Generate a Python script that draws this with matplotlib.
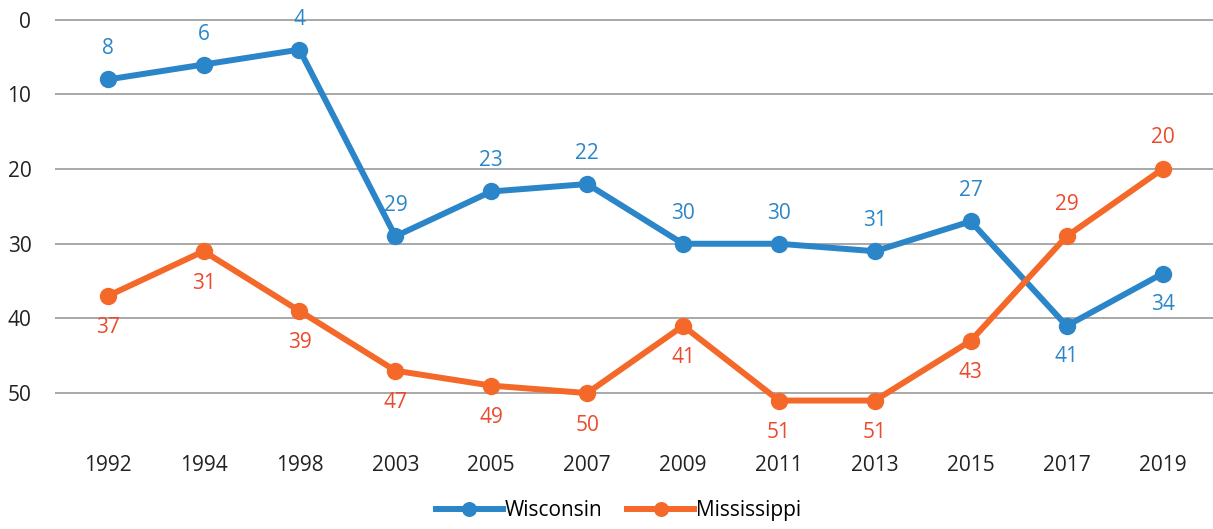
import matplotlib.pyplot as plt

years = ['1992', '1994', '1998', '2003', '2005', '2007',
         '2009', '2011', '2013', '2015', '2017', '2019']
wisconsin = [8, 6, 4, 29, 23, 22, 30, 30, 31, 27, 41, 34]
mississippi = [37, 31, 39, 47, 49, 50, 41, 51, 51, 43, 29, 20]

# which labels sit above (+1) or below (-1) their point
wi_side = [1, 1, 1, 1, 1, 1, 1, 1, 1, 1, -1, -1]
ms_side = [-1, -1, -1, -1, -1, -1, -1, -1, -1, -1, 1, 1]

blue = '#2B86C9'
orange = '#F4692A'
orange_text = '#EC4A2C'

plt.rcParams['font.family'] = ['Open Sans', 'DejaVu Sans']

fig = plt.figure(figsize=(12.13, 5.29), dpi=100)
ax = fig.add_axes([0.0453, 0.168, 0.955, 0.813])

x = list(range(len(years)))
ax.plot(x, wisconsin, color=blue, lw=4.3, marker='o', ms=11.5,
        label='Wisconsin', zorder=3)
ax.plot(x, mississippi, color=orange, lw=4.3, marker='o', ms=11.5,
        label='Mississippi', zorder=3)

for xi, v, s in zip(x, wisconsin, wi_side):
    ax.annotate(str(v), (xi, v), xytext=(0, 22 * s), textcoords='offset points',
                ha='center', va='center', fontsize=15, color=blue)
for xi, v, s in zip(x, mississippi, ms_side):
    ax.annotate(str(v), (xi, v), xytext=(0, 23 * s), textcoords='offset points',
                ha='center', va='center', fontsize=15, color=orange_text)

ax.set_xlim(-0.55, 11.53)
ax.set_ylim(56.3, -1.3)
ax.set_xticks(x)
ax.set_xticklabels(years, fontsize=15, color='#222222')
ax.set_yticks([0, 10, 20, 30, 40, 50])
ax.tick_params(axis='y', labelsize=15, labelcolor='#222222', length=0, pad=17)
ax.tick_params(axis='x', length=0, pad=11)

for gy in [0, 10, 20, 30, 40, 50]:
    ax.axhline(gy, color='#9a9a9a', lw=1.2, zorder=1)

for sp in ax.spines.values():
    sp.set_visible(False)

fig.legend(loc='center', bbox_to_anchor=(0.51, 0.035), ncol=2, frameon=False,
           fontsize=15, handlelength=3.2, handletextpad=0.1, columnspacing=1.2,
           markerscale=0.85)

fig.savefig('out.png', dpi=100)
